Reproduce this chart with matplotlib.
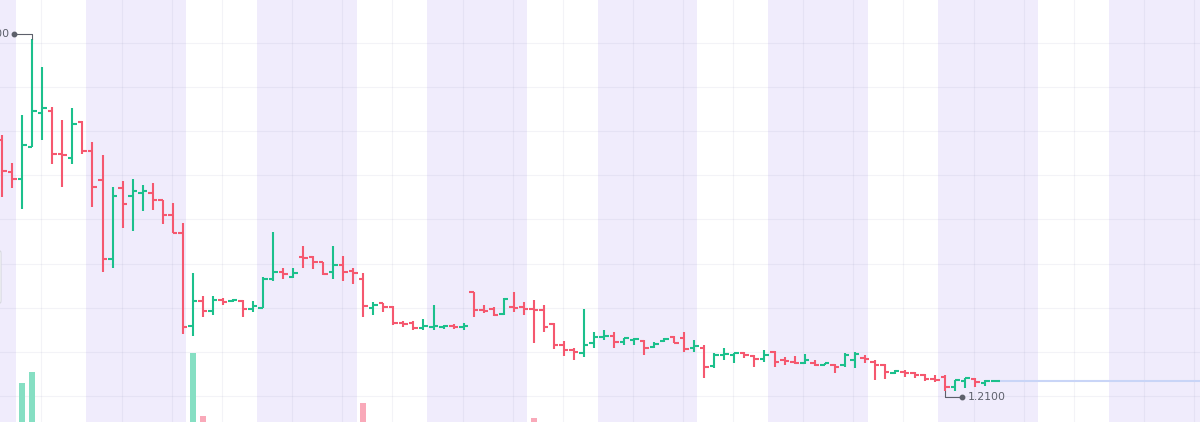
import numpy as np
import matplotlib
matplotlib.use("Agg")
from matplotlib import pyplot as plt
from matplotlib.patches import FancyBboxPatch

# OHLC values, one entry per bar
opens = [1.7800, 1.7075, 1.6916, 1.7642, 1.8413, 1.8458, 1.7483, 1.7392, 1.8209, 1.7551,
         1.6893, 1.5102, 1.6712, 1.6531, 1.6599, 1.6599, 1.6440, 1.6100, 1.5692, 1.3583,
         1.4150, 1.3923, 1.4172, 1.4150, 1.4150, 1.3968, 1.3991, 1.4648, 1.4807, 1.4694,
         1.5147, 1.5147, 1.5034, 1.4807, 1.4966, 1.4830, 1.4648, 1.3991, 1.4104, 1.4013,
         1.3651, 1.3651, 1.3537, 1.3560, 1.3560, 1.3583, 1.3560, 1.4354, 1.3945, 1.3968,
         1.3855, 1.4013, 1.4013, 1.3968, 1.3945, 1.3628, 1.3152, 1.3038, 1.2970, 1.3197,
         1.3333, 1.3356, 1.3220, 1.3265, 1.3242, 1.3107, 1.3242, 1.3333, 1.3311, 1.3084,
         1.3084, 1.2676, 1.2925, 1.2925, 1.2970, 1.2902, 1.2834, 1.2993, 1.2812, 1.2766,
         1.2744, 1.2744, 1.2698, 1.2698, 1.2698, 1.2812, 1.2857, 1.2766, 1.2698, 1.2517,
         1.2540, 1.2517, 1.2472, 1.2381, 1.2426, 1.2199, 1.2336, 1.2381, 1.2290, 1.2330]
highs = [1.7914, 1.7279, 1.8367, 2.0100, 1.9456, 1.8549, 1.8254, 1.8526, 1.8231, 1.7755,
         1.7460, 1.6735, 1.6871, 1.6916, 1.6780, 1.6825, 1.6440, 1.6372, 1.5918, 1.4785,
         1.4263, 1.4263, 1.4218, 1.4195, 1.4172, 1.4150, 1.4694, 1.5714, 1.4898, 1.4898,
         1.5397, 1.5170, 1.5034, 1.5397, 1.5170, 1.4898, 1.4785, 1.4127, 1.4104, 1.4036,
         1.3696, 1.3696, 1.3741, 1.4059, 1.3605, 1.3628, 1.3651, 1.4354, 1.4059, 1.4013,
         1.4218, 1.4354, 1.4127, 1.4172, 1.4059, 1.3651, 1.3242, 1.3084, 1.3968, 1.3447,
         1.3492, 1.3447, 1.3311, 1.3311, 1.3265, 1.3220, 1.3311, 1.3356, 1.3447, 1.3265,
         1.3152, 1.2970, 1.3084, 1.2970, 1.2993, 1.2925, 1.3038, 1.3016, 1.2880, 1.2902,
         1.2948, 1.2812, 1.2744, 1.2721, 1.2970, 1.2993, 1.2925, 1.2812, 1.2721, 1.2585,
         1.2585, 1.2540, 1.2494, 1.2472, 1.2472, 1.2358, 1.2404, 1.2404, 1.2358, 1.2358]
lows = [1.6508, 1.6712, 1.6236, 1.7642, 1.7800, 1.7256, 1.6735, 1.7256, 1.7483, 1.6281,
        1.4807, 1.4898, 1.5805, 1.5737, 1.6190, 1.6213, 1.5896, 1.5692, 1.3401, 1.3356,
        1.3787, 1.3832, 1.4059, 1.4127, 1.3787, 1.3900, 1.3991, 1.4603, 1.4648, 1.4671,
        1.4898, 1.4875, 1.4739, 1.4648, 1.4603, 1.4535, 1.3787, 1.3832, 1.3900, 1.3605,
        1.3560, 1.3492, 1.3492, 1.3492, 1.3515, 1.3515, 1.3492, 1.3787, 1.3877, 1.3809,
        1.3832, 1.3900, 1.3832, 1.3197, 1.3447, 1.3061, 1.2902, 1.2812, 1.2880, 1.3084,
        1.3265, 1.3084, 1.3152, 1.3152, 1.2925, 1.3084, 1.3220, 1.3197, 1.2993, 1.2993,
        1.2404, 1.2630, 1.2812, 1.2744, 1.2857, 1.2653, 1.2766, 1.2653, 1.2698, 1.2721,
        1.2721, 1.2676, 1.2698, 1.2517, 1.2653, 1.2630, 1.2744, 1.2358, 1.2381, 1.2494,
        1.2426, 1.2404, 1.2336, 1.2313, 1.2100, 1.2115, 1.2177, 1.2199, 1.2222, 1.2313]
closes = [1.7097, 1.6916, 1.7687, 1.8458, 1.8526, 1.7483, 1.7460, 1.8163, 1.7551, 1.6735,
          1.5102, 1.6531, 1.6349, 1.6644, 1.6644, 1.6440, 1.6100, 1.5692, 1.3560, 1.4150,
          1.3923, 1.4172, 1.4127, 1.4172, 1.3968, 1.4036, 1.4648, 1.4807, 1.4762, 1.4785,
          1.5125, 1.5034, 1.4762, 1.4966, 1.4807, 1.4785, 1.4036, 1.4059, 1.4013, 1.3651,
          1.3628, 1.3537, 1.3583, 1.3583, 1.3583, 1.3560, 1.3583, 1.3945, 1.3923, 1.3832,
          1.4195, 1.3991, 1.3968, 1.3945, 1.3560, 1.3152, 1.3038, 1.2993, 1.3152, 1.3333,
          1.3356, 1.3220, 1.3311, 1.3288, 1.3084, 1.3175, 1.3288, 1.3197, 1.3061, 1.3129,
          1.2653, 1.2925, 1.2948, 1.2970, 1.2925, 1.2834, 1.2925, 1.2766, 1.2789, 1.2744,
          1.2812, 1.2698, 1.2744, 1.2653, 1.2925, 1.2948, 1.2834, 1.2698, 1.2540, 1.2562,
          1.2517, 1.2472, 1.2381, 1.2358, 1.2199, 1.2358, 1.2404, 1.2313, 1.2336, 1.2345]
# only a few bars have a visible volume
volume_bars = {2: 5600, 3: 7200, 19: 9900, 20: 860, 36: 2700, 53: 580}

up_col = "#1cc08c"
down_col = "#f5586f"
up_vol = "#86dfc3"
down_vol = "#f9a9b9"
band_col = "#f0ecfc"
label_col = "#5d606b"

n = len(opens)
x = np.arange(n)
o = np.array(opens)
h = np.array(highs)
l = np.array(lows)
c = np.array(closes)
up = c >= o
cols = np.where(up, up_col, down_col)

vol = np.zeros(n)
for i, v in volume_bars.items():
    vol[i] = v

fig = plt.figure(figsize=(12, 4.22), dpi=100)
ax = fig.add_axes([0, 0, 1, 1])
xmin, xmax = -0.22, 119.42
ymin, ymax = 1.1406, 2.0975
ax.set_xlim(xmin, xmax)
ax.set_ylim(ymin, ymax)
ppx = 1200 / (xmax - xmin)   # pixels per bar
ppy = 422 / (ymax - ymin)    # pixels per price unit

# session bands
for k in range(-1, 7):
    ax.axvspan(8.40 + 16.985 * k, 18.35 + 16.985 * k, color=band_col, lw=0, zorder=0)

# time grid
xt = [3.83]
for k in range(7):
    for a in (11.94, 16.93, 21.91):
        if a + 16.985 * k < xmax:
            xt.append(a + 16.985 * k)
ax.set_xticks(xt)
ax.set_yticks(np.arange(1.2, 2.05, 0.1))
ax.set_axisbelow(True)
ax.grid(color=(0.55, 0.55, 0.7), alpha=0.1, lw=0.8)
ax.tick_params(length=0, labelbottom=False, labelleft=False)
for s in ax.spines.values():
    s.set_visible(False)

# ohlc bars
tick = 0.45
ax.vlines(x, l, h, colors=cols, lw=1.5, zorder=3)
ax.hlines(o, x - tick, x, colors=cols, lw=1.5, zorder=3)
ax.hlines(c, x, x + tick, colors=cols, lw=1.5, zorder=3)

# last price line
ax.hlines(c[-1], x[-1] + 0.3, xmax, color="#c9d5f7", lw=1.5, zorder=2)

# high / low markers
ih = int(np.argmax(h))
il = int(np.argmin(l))
dy = 6 / ppy
ax.plot([x[il], x[il], x[il] + 17 / ppx], [l[il], l[il] - dy, l[il] - dy],
        color=label_col, lw=0.8, zorder=4)
ax.plot(x[il] + 17 / ppx, l[il] - dy, "o", ms=3.2, color=label_col, zorder=4)
ax.text(x[il] + 23 / ppx, l[il] - dy, "%.4f" % l[il], color=label_col,
        fontsize=7.8, ha="left", va="center")
dy2 = 5 / ppy
ax.plot([x[ih], x[ih], x[ih] - 18 / ppx], [h[ih], h[ih] + dy2, h[ih] + dy2],
        color=label_col, lw=0.8, zorder=4)
ax.plot(x[ih] - 18 / ppx, h[ih] + dy2, "o", ms=3.2, color=label_col, zorder=4)
ax.text(x[ih] - 23 / ppx, h[ih] + dy2, "%.4f" % h[ih], color=label_col,
        fontsize=7.8, ha="right", va="center")

# edge of a cut-off panel at the left border
box = FancyBboxPatch((xmin - 3, 2.0975 - 304 / ppy), 3.1, 54 / ppy,
                     boxstyle="round,pad=0,rounding_size=0.3",
                     fc="white", ec="#d6d8df", lw=0.8, zorder=5,
                     mutation_aspect=1 / ppy * ppx)
ax.add_patch(box)

# volume
vax = ax.twinx()
vax.set_ylim(0, 60500)
vax.bar(x, vol, width=0.62, color=np.where(up, up_vol, down_vol), lw=0)
vax.axis("off")
vax.set_xlim(xmin, xmax)

fig.savefig("out.png", dpi=100)
plt.close()
